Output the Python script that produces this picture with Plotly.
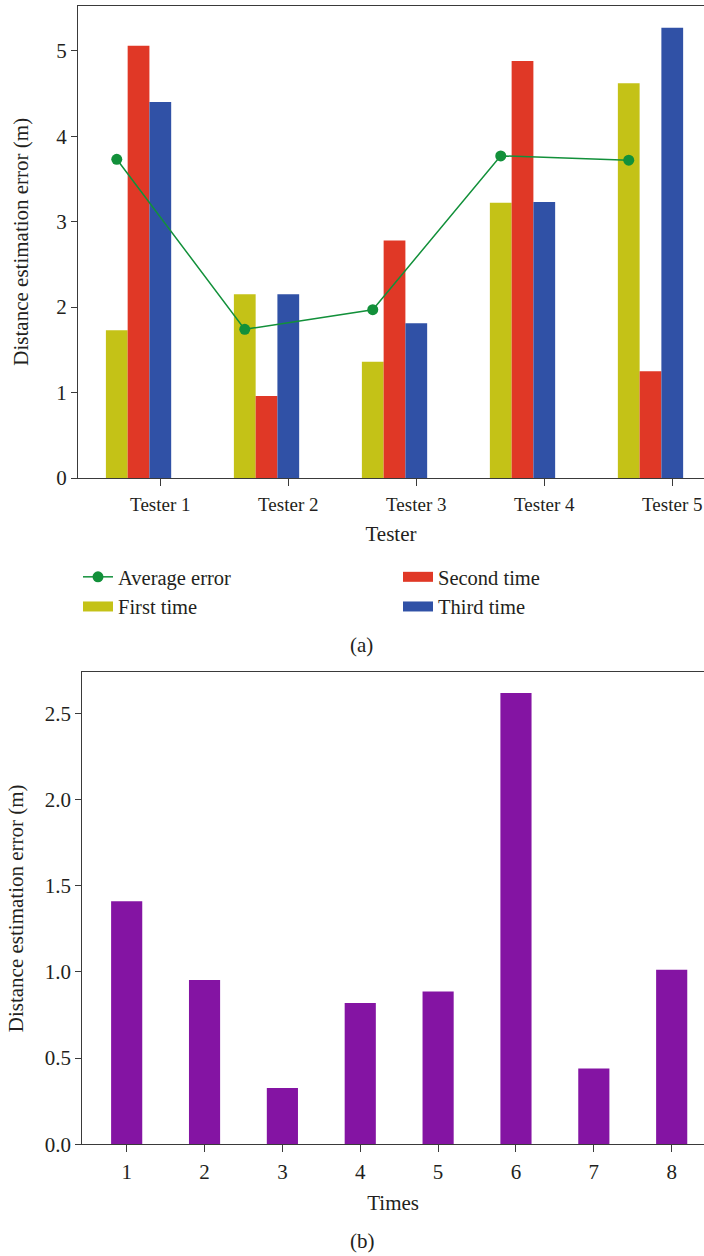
import plotly.graph_objects as go
import numpy as np

# ---------------- data ----------------
testers = ["Tester 1", "Tester 2", "Tester 3", "Tester 4", "Tester 5"]
first_time = [1.73, 2.15, 1.36, 3.22, 4.62]
second_time = [5.06, 0.96, 2.78, 4.88, 1.25]
third_time = [4.40, 2.15, 1.81, 3.23, 5.27]
average_error = [3.73, 1.74, 1.97, 3.77, 3.72]

times = [1, 2, 3, 4, 5, 6, 7, 8]
times_error = [1.41, 0.953, 0.327, 0.82, 0.886, 2.618, 0.439, 1.012]

# ---------------- style ----------------
W, H = 704, 1256
FONT = "Liberation Serif"
FS = 21
XFS = 19  # top x tick labels (last one must fit inside the page)
LFS = 20.5
TXT = "#231f20"
AX = "#3a3a3a"
C_FIRST = "#c4c217"
C_SECOND = "#e03826"
C_THIRD = "#3051a6"
C_AVG = "#12903a"
C_PURPLE = "#8414a3"
BW = 0.17  # bar width (category units)

pos = np.arange(len(testers))

fig = go.Figure()

fig.add_trace(go.Bar(x=pos, y=first_time, width=BW, offset=-2.5 * BW, marker_color=C_FIRST,
                     marker_line_width=0, showlegend=False, xaxis="x", yaxis="y"))
fig.add_trace(go.Bar(x=pos, y=second_time, width=BW, offset=-1.5 * BW, marker_color=C_SECOND,
                     marker_line_width=0, showlegend=False, xaxis="x", yaxis="y"))
fig.add_trace(go.Bar(x=pos, y=third_time, width=BW, offset=-0.5 * BW, marker_color=C_THIRD,
                     marker_line_width=0, showlegend=False, xaxis="x", yaxis="y"))
fig.add_trace(go.Scatter(x=pos - 2 * BW, y=average_error, mode="lines+markers", name="Average error",
                         line=dict(color=C_AVG, width=1.5), marker=dict(color=C_AVG, size=11),
                         legend="legend", xaxis="x", yaxis="y"))

# legend entries for bar series (rectangular swatches)
for name, col, lg in [("First time", C_FIRST, "legend"),
                      ("Second time", C_SECOND, "legend2"),
                      ("Third time", C_THIRD, "legend2")]:
    fig.add_trace(go.Scatter(x=[None], y=[None], mode="lines", name=name,
                             line=dict(color=col, width=10), legend=lg,
                             xaxis="x", yaxis="y"))

fig.add_trace(go.Bar(x=times, y=times_error, width=0.4, marker_color=C_PURPLE,
                     marker_line_width=0, showlegend=False, xaxis="x2", yaxis="y2"))

axis_common = dict(showline=True, linecolor=AX, linewidth=1.3, ticks="outside",
                   tickcolor=AX, tickwidth=1.3, showgrid=False, zeroline=False,
                   automargin=False)
tfont = dict(family=FONT, size=FS, color=TXT)

fig.update_layout(
    width=W, height=H, autosize=False,
    margin=dict(l=0, r=0, t=0, b=0, pad=0),
    paper_bgcolor="white", plot_bgcolor="white",
    barmode="overlay",
    font=dict(family=FONT, size=FS, color=TXT),
    xaxis=dict(domain=[78 / W, 1], range=[-0.643, 4.248], tickvals=list(pos), ticktext=testers,
               ticklen=7, mirror=True, anchor="y", ticklabelstandoff=2,
               tickfont=dict(family=FONT, size=XFS, color=TXT),
               title=dict(text="Tester", font=tfont, standoff=12),
               **axis_common),
    yaxis=dict(domain=[1 - 478 / H, 1 - 5.5 / H], range=[0, 5.53], dtick=1, ticklen=6,
               anchor="x", tickfont=tfont,
               title=dict(text="Distance estimation error (m)", font=tfont, standoff=21),
               **axis_common),
    xaxis2=dict(domain=[82.3 / W, 1], range=[0.430, 8.415], tickvals=times, ticklen=7,
                mirror=True, anchor="y2", ticklabelstandoff=1, tickfont=tfont,
                title=dict(text="Times", font=tfont, standoff=12),
                **axis_common),
    yaxis2=dict(domain=[1 - 1144.3 / H, 1 - 672.3 / H], range=[0, 2.738], dtick=0.5,
                tickformat=".1f", ticklen=6, anchor="x2", tickfont=tfont,
                title=dict(text="Distance estimation error (m)", font=tfont, standoff=15),
                **axis_common),
    legend=dict(x=78 / W, y=1 - 557 / H, xanchor="left", yanchor="top", orientation="v",
                bgcolor="rgba(0,0,0,0)", borderwidth=0, tracegroupgap=0,
                font=dict(family=FONT, size=LFS, color=TXT)),
    legend2=dict(x=398 / W, y=1 - 557 / H, xanchor="left", yanchor="top", orientation="v",
                 bgcolor="rgba(0,0,0,0)", borderwidth=0, tracegroupgap=0,
                 font=dict(family=FONT, size=LFS, color=TXT)),
    annotations=[
        dict(text="(a)", x=361.5 / W, y=1 - 645 / H, xref="paper", yref="paper",
             showarrow=False, xanchor="center", yanchor="middle", font=tfont),
        dict(text="(b)", x=362 / W, y=1 - 1241 / H, xref="paper", yref="paper",
             showarrow=False, xanchor="center", yanchor="middle", font=tfont),
    ],
)

fig.write_html("out.html")
